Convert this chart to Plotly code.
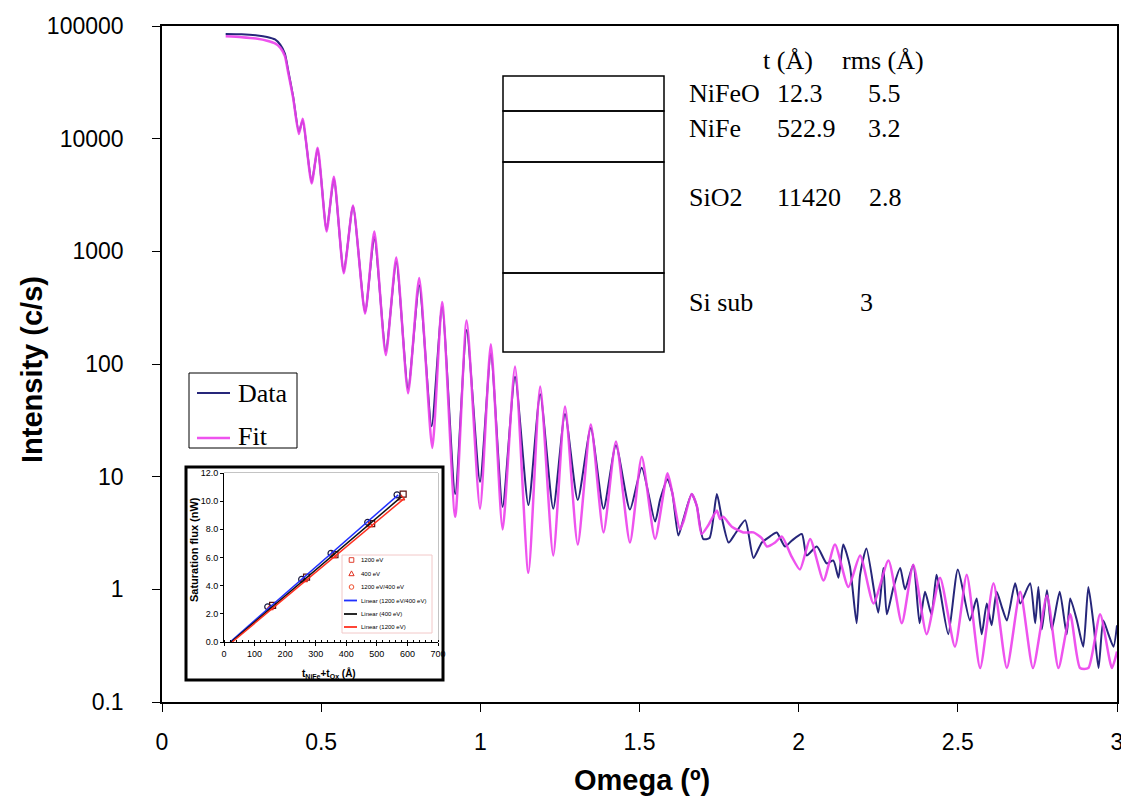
import plotly.graph_objects as go

# reflectivity scan: omega (deg) vs intensity (c/s)
data_omega = [0.20, 0.25, 0.30, 0.33, 0.355, 0.372, 0.386, 0.396, 0.412, 0.430, 0.442, 0.470, 0.489,
              0.517, 0.540, 0.571, 0.600, 0.638, 0.667, 0.703, 0.736, 0.773, 0.808, 0.847, 0.880,
              0.921, 0.957, 0.999, 1.033, 1.070, 1.109, 1.151, 1.188, 1.229, 1.266, 1.306, 1.347,
              1.387, 1.426, 1.470, 1.507, 1.549, 1.565, 1.588, 1.603, 1.622, 1.638, 1.664, 1.680,
              1.700, 1.720, 1.743, 1.758, 1.780, 1.800, 1.832, 1.858, 1.884, 1.910, 1.931, 1.957,
              1.978, 2.010, 2.025, 2.057, 2.088, 2.109, 2.125, 2.140, 2.161, 2.182, 2.193, 2.213,
              2.250, 2.266, 2.277, 2.298, 2.319, 2.334, 2.360, 2.380, 2.397, 2.417, 2.433, 2.444,
              2.470, 2.500, 2.538, 2.559, 2.575, 2.591, 2.606, 2.622, 2.638, 2.654, 2.680, 2.696,
              2.727, 2.743, 2.753, 2.764, 2.780, 2.795, 2.820, 2.842, 2.853, 2.874, 2.894, 2.910,
              2.926, 2.942, 2.957, 2.973, 2.989, 3.000]
data_counts = [85000, 84500, 82500, 80000, 76000, 68000, 57000, 41000, 23600, 11500, 14500, 4100, 8100,
               1550, 4400, 660, 2500, 290, 1350, 130, 810, 60, 500, 28, 320,
               7, 200, 9, 123, 5.4, 77, 5.6, 54, 5.2, 36, 6.2, 27,
               5.2, 19, 5.1, 12, 4.0, 6.3, 9.5, 7.2, 3.0, 4.2, 7.0, 5.5,
               2.8, 2.85, 7.0, 4.4, 2.6, 3.1, 4.1, 1.9, 2.6, 2.95, 3.2, 2.4,
               2.7, 3.1, 2.0, 2.4, 1.7, 1.8, 1.27, 2.5, 1.6, 0.5, 1.35, 2.3,
               0.62, 1.55, 0.6, 1.05, 1.55, 1.0, 1.65, 0.5, 0.95, 0.6, 1.35, 0.98,
               0.4, 1.5, 0.53, 0.83, 0.4, 0.75, 0.48, 0.95, 0.7, 0.53, 1.13, 0.75,
               1.13, 0.5, 1.05, 0.44, 0.98, 0.44, 0.95, 0.4, 0.83, 0.53, 0.31, 1.05,
               0.5, 0.2, 0.53, 0.4, 0.31, 0.48]

fit_omega = [0.20, 0.25, 0.30, 0.33, 0.355, 0.372, 0.386, 0.396, 0.412, 0.430, 0.442, 0.470, 0.489,
             0.517, 0.540, 0.571, 0.600, 0.638, 0.667, 0.703, 0.736, 0.773, 0.808, 0.849, 0.880,
             0.921, 0.957, 0.999, 1.033, 1.070, 1.109, 1.151, 1.188, 1.229, 1.266, 1.306, 1.347,
             1.387, 1.426, 1.470, 1.507, 1.549, 1.588, 1.603, 1.627, 1.638, 1.664, 1.680, 1.695,
             1.716, 1.743, 1.753, 1.763, 1.790, 1.826, 1.858, 1.884, 1.900, 1.926, 1.947, 1.978,
             2.004, 2.036, 2.078, 2.114, 2.156, 2.193, 2.235, 2.282, 2.324, 2.360, 2.402, 2.444,
             2.491, 2.528, 2.570, 2.612, 2.654, 2.696, 2.736, 2.780, 2.816, 2.853, 2.884, 2.910,
             2.947, 2.984, 3.000]
fit_counts = [81000, 79500, 77000, 74000, 70000, 64000, 54000, 39000, 23000, 11000, 15000, 4000, 8300,
              1500, 4600, 640, 2550, 280, 1500, 120, 880, 55, 580, 18, 355,
              4.4, 243, 5.2, 150, 3.4, 95, 1.4, 63, 2.0, 42, 2.5, 29,
              3.2, 20.5, 2.6, 15, 2.8, 10.7, 7.2, 3.4, 4.0, 7.0, 5.5, 3.1,
              3.7, 5.0, 4.2, 4.4, 3.6, 3.2, 3.2, 2.85, 2.4, 2.6, 2.95, 1.95,
              1.5, 2.8, 1.2, 2.5, 1.05, 2.0, 0.75, 1.8, 0.5, 1.65, 0.4, 1.27,
              0.31, 1.35, 0.2, 1.13, 0.2, 0.95, 0.2, 0.88, 0.2, 0.6, 0.2, 0.2,
              0.6, 0.2, 0.28]

x_ticks = [0, 0.5, 1, 1.5, 2, 2.5, 3]
x_tick_text = ["0", "0.5", "1", "1.5", "2", "2.5", "3"]
y_ticks = [0.1, 1, 10, 100, 1000, 10000, 100000]
y_tick_text = ["0.1", "1", "10", "100", "1000", "10000", "100000"]

# layer model table
layer_names = ["NiFeO", "NiFe", "SiO2", "Si sub"]
layer_t = ["12.3", "522.9", "11420", ""]
layer_rms = ["5.5", "3.2", "2.8", "3"]

# inset: saturation flux (nW) vs t_NiFe + t_Ox (A)
sq_t = [159, 270, 363, 483, 586]
sq_flux = [2.6, 4.6, 6.2, 8.4, 10.5]
tri_t = [150, 262, 358, 476, 580]
tri_flux = [2.4, 4.4, 6.1, 8.3, 10.2]
circ_t = [143, 254, 350, 470, 566]
circ_flux = [2.5, 4.45, 6.3, 8.5, 10.45]
fit_blue_t = [20, 570]
fit_blue_flux = [0.0, 10.45]
fit_black_t = [23, 580]
fit_black_flux = [0.0, 10.3]
fit_red_t = [27, 590]
fit_red_flux = [0.0, 10.2]
inset_legend = ["1200 eV", "400 eV", "1200 eV/400 eV",
                "Linear (1200 eV/400 eV)", "Linear (400 eV)", "Linear (1200 eV)"]

# the page body has an 8px margin, so the figure is drawn 8px smaller and all
# reference pixel positions map through px()/py() (paper fractions of the plot area)
BODY = 8
W, H = 1129 - BODY, 802 - BODY
PL, PR, PT, PB = 162, 1117, 26, 702  # plot area in reference pixels


def px(x):
    return (x - PL) / (PR - PL)


def py(y):
    return (PB - y) / (PB - PT)


SANS = "Liberation Sans, Arial"
SERIF = "Liberation Serif, Times New Roman"
NAVY = "#26267a"
PINK = "rgba(236,64,236,0.9)"
PAD = "\u00a0" * 3 + "\u2009"  # pushes y tick labels away from the axis

fig = go.Figure()

fig.add_trace(go.Scatter(x=data_omega, y=data_counts, mode="lines", name="Data",
                         line=dict(color=NAVY, width=2, shape="spline", smoothing=0.6)))
fig.add_trace(go.Scatter(x=fit_omega, y=fit_counts, mode="lines", name="Fit",
                         line=dict(color=PINK, width=2.5, shape="spline", smoothing=0.6)))

inset_kw = dict(xaxis="x2", yaxis="y2")
fig.add_trace(go.Scatter(x=sq_t, y=sq_flux, mode="markers", name=inset_legend[0],
                         marker=dict(symbol="square-open", size=6, color="#5a1010", line=dict(width=1.2)),
                         **inset_kw))
fig.add_trace(go.Scatter(x=tri_t, y=tri_flux, mode="markers", name=inset_legend[1],
                         marker=dict(symbol="triangle-up-open", size=6, color="#e03020", line=dict(width=1.2)),
                         **inset_kw))
fig.add_trace(go.Scatter(x=circ_t, y=circ_flux, mode="markers", name=inset_legend[2],
                         marker=dict(symbol="circle-open", size=6, color="#1a1a40", line=dict(width=1.2)),
                         **inset_kw))
fig.add_trace(go.Scatter(x=fit_blue_t, y=fit_blue_flux, mode="lines", name=inset_legend[3],
                         line=dict(color="#2030ff", width=1.5), **inset_kw))
fig.add_trace(go.Scatter(x=fit_black_t, y=fit_black_flux, mode="lines", name=inset_legend[4],
                         line=dict(color="#111111", width=1.5), **inset_kw))
fig.add_trace(go.Scatter(x=fit_red_t, y=fit_red_flux, mode="lines", name=inset_legend[5],
                         line=dict(color="#ff3020", width=1.5), **inset_kw))

shapes = []
annotations = []


def pshape(**kw):
    kw.update(xref="paper", yref="paper")
    shapes.append(kw)


def ptext(x, y, text, size, family, **kw):
    d = dict(x=px(x), y=py(y), xref="paper", yref="paper", text=text, showarrow=False,
             font=dict(family=family, size=size, color="black"))
    d.update(kw)
    annotations.append(d)


# main legend, drawn by hand (plotly's own box is too tall for this font)
pshape(type="rect", x0=px(189), x1=px(297), y0=py(448), y1=py(373),
       line=dict(color="black", width=1), fillcolor="white")
pshape(type="line", x0=px(197), x1=px(230), y0=py(393), y1=py(393), line=dict(color=NAVY, width=2))
pshape(type="line", x0=px(197), x1=px(230), y0=py(438), y1=py(438), line=dict(color=PINK, width=2.5))
ptext(236, 393, "Data", 26, SERIF, xanchor="left", yanchor="middle")
ptext(236, 436, "Fit", 26, SERIF, xanchor="left", yanchor="middle")

# inset outer frame and plot frame
pshape(type="rect", x0=px(186), x1=px(443), y0=py(680), y1=py(467),
       line=dict(color="black", width=3), fillcolor="white", layer="below")
pshape(type="rect", x0=px(224), x1=px(438), y0=py(642), y1=py(473),
       line=dict(color="#888888", width=1), layer="below")

# inset legend box
pshape(type="rect", x0=px(342), x1=px(432), y0=py(633), y1=py(555),
       line=dict(color="#f2c8c8", width=1), fillcolor="white")
leg_y = [560, 573.5, 587, 600.5, 614, 627]
c = 351.5
pshape(type="rect", x0=px(c - 2.3), x1=px(c + 2.3), y0=py(leg_y[0] + 2.3), y1=py(leg_y[0] - 2.3),
       line=dict(color="#e04030", width=1))
pshape(type="path", path="M {} {} L {} {} L {} {} Z".format(px(c - 2.6), py(leg_y[1] + 2.2), px(c + 2.6),
                                                          py(leg_y[1] + 2.2), px(c), py(leg_y[1] - 2.6)),
       line=dict(color="#e03020", width=1))
pshape(type="circle", x0=px(c - 2.3), x1=px(c + 2.3), y0=py(leg_y[2] + 2.3), y1=py(leg_y[2] - 2.3),
       line=dict(color="#f05030", width=1))
for yy, col in zip(leg_y[3:], ["#2030ff", "#111111", "#ff3020"]):
    pshape(type="line", x0=px(344), x1=px(357), y0=py(yy), y1=py(yy), line=dict(color=col, width=1.8))
for yy, lab in zip(leg_y, inset_legend):
    ptext(359, yy, lab, 6, SANS, xanchor="left", yanchor="middle")

# layer stack boxes
bounds = [76, 111, 162, 273, 352]
for i in range(len(layer_names)):
    pshape(type="rect", x0=px(503), x1=px(664), y0=py(bounds[i + 1]), y1=py(bounds[i]),
           line=dict(color="black", width=1.5))

row_y = [93, 128, 197, 302]
rms_x = [866, 866, 867, 858]
for i, name in enumerate(layer_names):
    ptext(687, row_y[i], name, 26, SERIF, xanchor="left", yanchor="middle")
    if layer_t[i]:
        ptext(775, row_y[i], layer_t[i], 26, SERIF, xanchor="left", yanchor="middle")
    ptext(rms_x[i], row_y[i], layer_rms[i], 26, SERIF, xanchor="left", yanchor="middle")
ptext(788, 60, "t (Å)", 26, SERIF, xanchor="center", yanchor="middle")
ptext(883, 60, "rms (Å)", 26, SERIF, xanchor="center", yanchor="middle")

# axis titles
ptext(32, 370, "<b>Intensity (c/s)</b>", 29, SANS, textangle=-90, xanchor="center", yanchor="middle")
ptext(642, 780, "<b>Omega (º)</b>", 29, SANS, xanchor="center", yanchor="middle")

# inset axis titles
ptext(194, 550, "<b>Saturation flux (nW)</b>", 11, SANS, textangle=-90, xanchor="center", yanchor="middle")
ptext(329, 673, "<b>t<sub>NiFe</sub>+t<sub>Ox</sub> (Å)</b>", 10, SANS, xanchor="center", yanchor="middle")

fig.update_layout(
    width=W, height=H,
    margin=dict(l=PL - BODY, r=W - (PR - BODY), t=PT - BODY, b=H - (PB - BODY)),
    plot_bgcolor="white", paper_bgcolor="white", showlegend=False,
    shapes=shapes, annotations=annotations,
    xaxis=dict(range=[0, 3], tickvals=x_ticks, ticktext=x_tick_text, showgrid=False, zeroline=False,
               showline=True, linecolor="black", linewidth=2, mirror=True, automargin=False,
               ticks="outside", ticklen=8, tickcolor="black", ticklabelstandoff=10,
               tickfont=dict(family=SANS, size=23, color="black")),
    yaxis=dict(type="log", range=[-1, 5], tickvals=y_ticks, ticktext=[t + PAD for t in y_tick_text],
               showgrid=False, zeroline=False, showline=True, linecolor="black", linewidth=2, mirror=True,
               automargin=False, ticks="outside", ticklen=8, tickcolor="black",
               tickfont=dict(family=SANS, size=23, color="black")),
    xaxis2=dict(domain=[px(224), px(438)], anchor="y2", range=[0, 700], dtick=100, showgrid=False,
                zeroline=False, showline=True, linecolor="black", linewidth=1, automargin=False,
                ticks="outside", ticklen=3, tickcolor="black",
                minor=dict(ticks="inside", ticklen=2, dtick=20, tickcolor="black"),
                tickfont=dict(family=SANS, size=9, color="black")),
    yaxis2=dict(domain=[py(642), py(473)], anchor="x2", range=[0, 12], dtick=2, tickformat=".1f",
                showgrid=False, zeroline=False, showline=True, linecolor="black", linewidth=1,
                automargin=False, ticks="outside", ticklen=3, tickcolor="black",
                tickfont=dict(family=SANS, size=9, color="black")),
)

fig.write_html("out.html")
